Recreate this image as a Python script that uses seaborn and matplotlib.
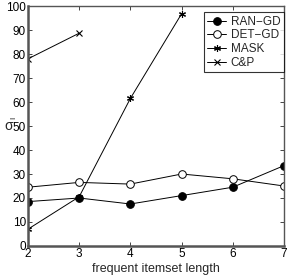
import seaborn as sns
import matplotlib.pyplot as plt
import pandas as pd

# Data
lengths = [2, 3, 4, 5, 6, 7]
ran_gd = [18.5, 20, 17.5, 21, 24.5, 33.5]
det_gd = [24.5, 26.5, 25.8, 30, 28, 25]
mask_x = [2, 3, 4, 5]
mask = [7, 20.5, 61.5, 96.8]
cp_x = [2, 3]
cp = [78, 88.7]

sns.set_style("ticks")
plt.rcParams['font.family'] = ['Liberation Sans Narrow', 'Liberation Sans', 'DejaVu Sans']

fig = plt.figure(figsize=(2.91, 2.77), dpi=100)
ax = fig.add_axes([0.096, 0.112, 0.88, 0.866])

sns.lineplot(x=lengths, y=ran_gd, ax=ax, color='black', lw=0.7, marker='o',
             markersize=5.5, markerfacecolor='black', markeredgecolor='black', label='RAN\u2212GD')
sns.lineplot(x=lengths, y=det_gd, ax=ax, color='black', lw=0.7, marker='o',
             markersize=5.5, markerfacecolor='white', markeredgecolor='black', markeredgewidth=0.7,
             label='DET\u2212GD')
sns.lineplot(x=mask_x, y=mask, ax=ax, color='black', lw=0.7, marker=(6, 2, 0),
             markersize=5, markeredgewidth=0.8, markeredgecolor='black', label='MASK')
sns.lineplot(x=cp_x, y=cp, ax=ax, color='black', lw=0.7, marker='x',
             markersize=4, markeredgewidth=0.8, markeredgecolor='black', label='C&P')

ax.set_xlim(2, 7)
ax.set_ylim(0, 100)
ax.set_xticks(lengths)
ax.set_yticks(range(0, 101, 10))
ax.tick_params(direction='in', length=3, width=0.7, labelsize=8.5, pad=1.5,
               top=True, right=True, colors='#444444', labelcolor='black')
for s in ax.spines.values():
    s.set_color('#555555')
    s.set_linewidth(1.0)
ax.spines['left'].set_linewidth(1.8)
ax.spines['bottom'].set_linewidth(1.8)

ax.set_xlabel('frequent itemset length', fontsize=9, labelpad=2)
# y label: upright sigma with a sideways subscript I, as in the original
ax.text(-0.074, 0.5, '\u03c3', transform=ax.transAxes, fontsize=10,
        ha='center', va='center', clip_on=False)
ax.text(-0.055, 0.535, 'I', transform=ax.transAxes, fontsize=6, rotation=90,
        ha='center', va='center', clip_on=False)

leg = ax.legend(loc='upper right', bbox_to_anchor=(1.0, 0.975), fontsize=8.5, frameon=True,
                fancybox=False, edgecolor='black', borderpad=0.3, handlelength=1.6,
                handletextpad=0.4, labelspacing=0.15, borderaxespad=0.0)
leg.get_frame().set_linewidth(0.8)

fig.savefig('out.png', dpi=100)
